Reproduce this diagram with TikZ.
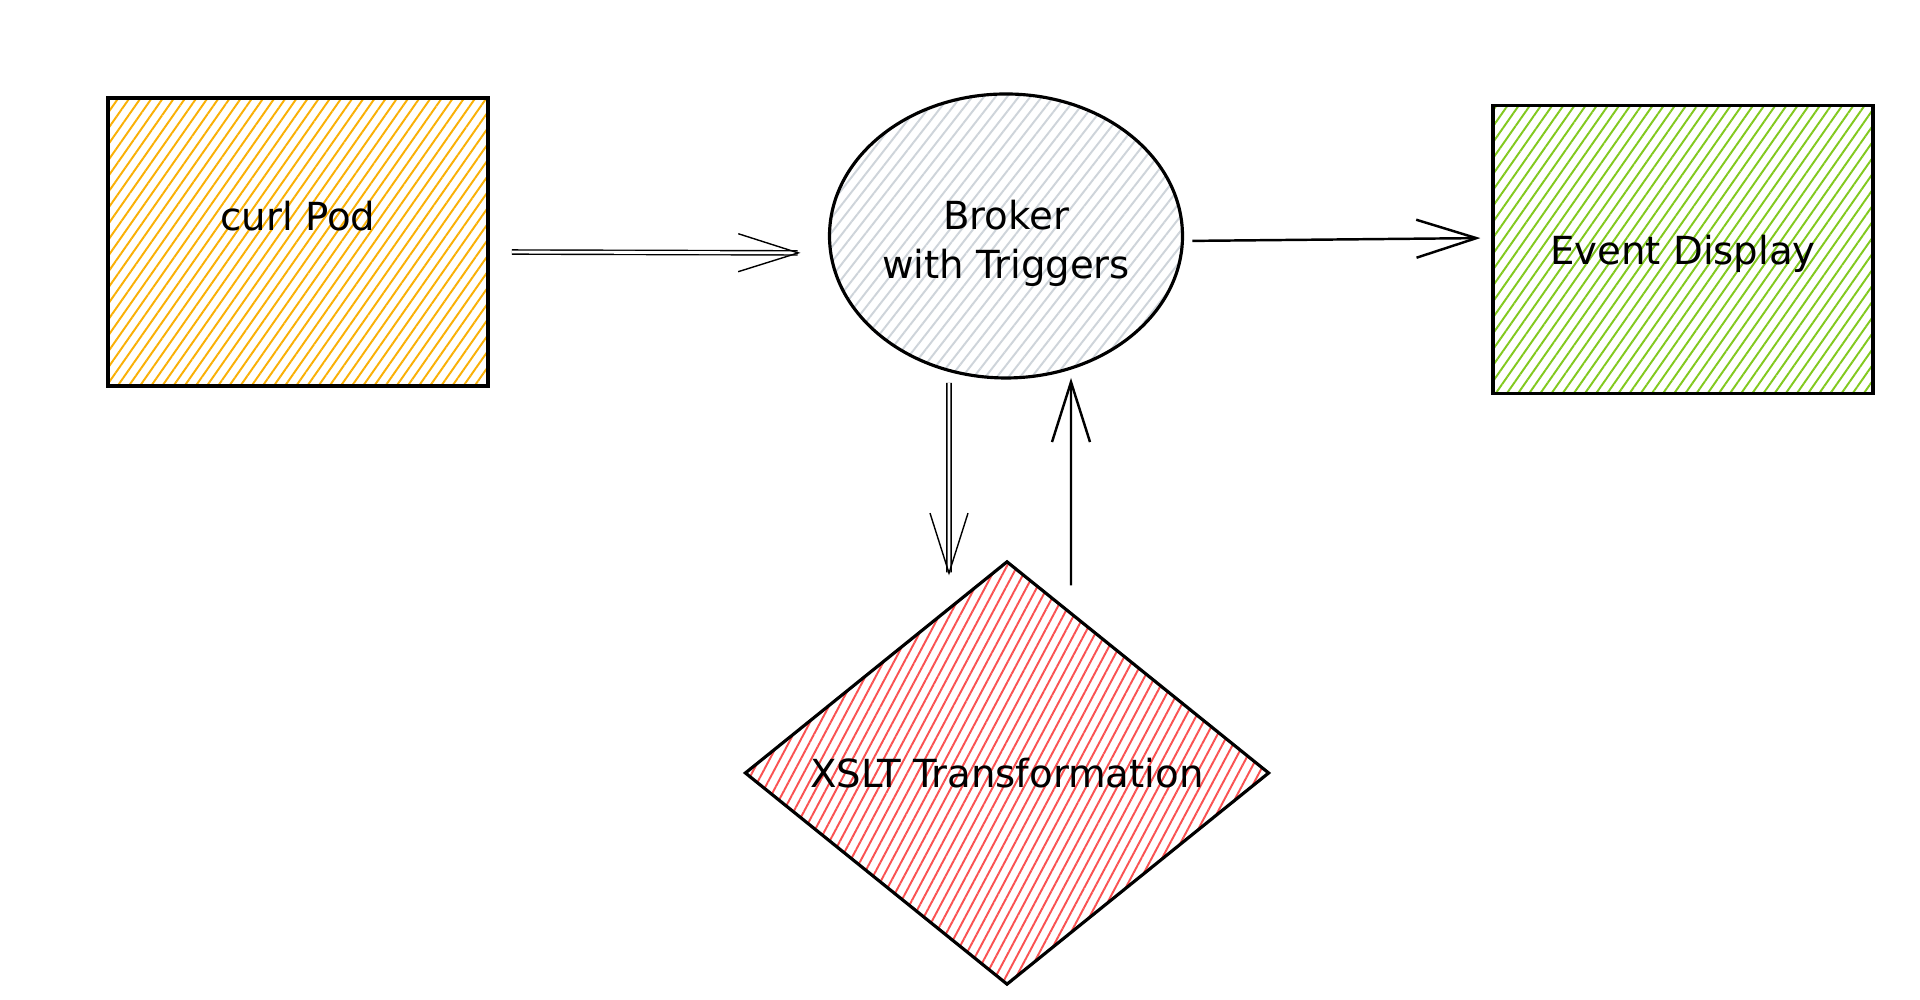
\documentclass[tikz,border=0pt]{standalone}
\usepackage{fontspec}
\setmainfont{DejaVu Sans}
\usepackage{tikz}
\usepackage{xcolor}
\usetikzlibrary{positioning, shapes.geometric, patterns.meta, arrows.meta}
\definecolor{podfill}{HTML}{FAB005}
\definecolor{brokerfill}{HTML}{CED4DA}
\definecolor{displayfill}{HTML}{82C91E}
\definecolor{xsltfill}{HTML}{FA5252}

\begin{document}
\begin{tikzpicture}[
  font=\fontsize{11}{14}\selectfont,
  box/.style={draw, line width=0.9pt, minimum width=3.8cm, minimum height=2.88cm, inner sep=0pt},
  hatch/.style={pattern={Lines[angle=#1, distance=2.6pt, line width=0.55pt]}},
  flow/.style={-{Straight Barb[length=0.6cm, width=0.38cm]}, line width=0.7pt},
  twin/.style={double, double distance=0.8pt, line width=0.4pt},
]
  \path[use as bounding box, fill=white] (0,0) rectangle (19.2,10);

  % Boxes in the top row
  \node[box, hatch=55, pattern color=podfill,
        label={[yshift=0.26cm]center:curl Pod}] (pod) at (2.98,7.58) {};
  \node[ellipse, draw, line width=0.9pt, hatch=52, pattern color=brokerfill,
        minimum width=3.53cm, minimum height=2.84cm, inner sep=0pt,
        label={[yshift=-0.07cm, align=center]center:Broker\\with Triggers}] (broker) at (10.06,7.64) {};
  \node[box, hatch=55, pattern color=displayfill, text height=0.38cm] (display) at (16.83,7.505) {Event Display};

  % Transformation below the broker
  \node[diamond, draw, line width=0.9pt, hatch=62, pattern color=xsltfill,
        minimum width=5.24cm, minimum height=4.2cm, inner sep=0pt] (xslt) at (10.07,2.27) {XSLT Transformation};

  % Connectors
  \draw[flow, twin, shorten <=0.23cm, shorten >=0.28cm]
    ([yshift=-0.1cm]pod.east) -- ([yshift=-0.17cm]broker.west);
  \draw[flow, shorten <=0.09cm, shorten >=0.11cm]
    ([yshift=-0.05cm]broker.east) -- ([yshift=0.115cm]display.west);
  \draw[flow, twin]
    ([xshift=-0.57cm, yshift=-0.04cm]broker.south) -- ([xshift=-0.58cm, yshift=-0.15cm]xslt.north);
  \draw[flow]
    ([xshift=0.64cm, yshift=-0.25cm]xslt.north) -- ([xshift=0.65cm, yshift=0.01cm]broker.south);
\end{tikzpicture}
\end{document}
